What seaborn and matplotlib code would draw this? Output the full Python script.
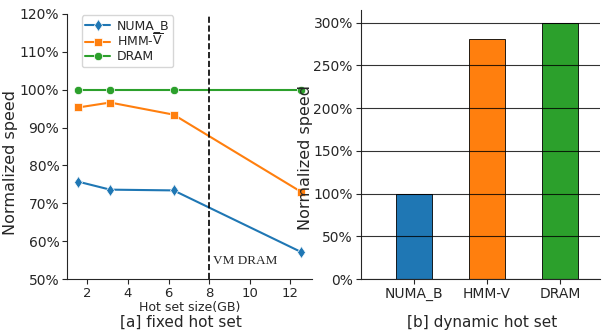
import pandas as pd
import matplotlib.pyplot as plt
import seaborn as sns
from matplotlib.ticker import PercentFormatter

# [a] fixed hot set
hot_set_gb = [1.5625, 3.125, 6.25, 12.5]
numa_b = [75.7, 73.6, 73.4, 57.2]
hmm_v = [95.3, 96.6, 93.4, 73.1]
dram = [100.0, 100.0, 100.0, 100.0]

# [b] dynamic hot set
systems = ['NUMA_B', 'HMM-V', 'DRAM']
dyn_speed = [100.0, 281.0, 300.0]

series_names = ['NUMA_B', 'HMM-V', 'DRAM']
legend_labels = ['NUMA_B', r'HMM-$\overline{\mathrm{V}}$', 'DRAM']
markers = {'NUMA_B': 'd', 'HMM-V': 's', 'DRAM': 'o'}
colors = sns.color_palette('tab10', 3)

sns.set_style("ticks")
plt.rcParams['font.family'] = ['DejaVu Sans']
plt.rcParams['mathtext.fontset'] = 'dejavusans'

df = pd.DataFrame({
    'size': hot_set_gb * 3,
    'speed': numa_b + hmm_v + dram,
    'system': [s for s in series_names for _ in hot_set_gb],
})

fig = plt.figure(figsize=(6.03, 3.31), dpi=100)
ax1 = fig.add_axes([0.111, 0.157, 0.406, 0.801])
ax2 = fig.add_axes([0.599, 0.157, 0.396, 0.813])

sns.lineplot(data=df, x='size', y='speed', hue='system', style='system',
             hue_order=series_names, style_order=series_names,
             markers=markers, dashes=False, palette=colors,
             markersize=6, linewidth=1.5, markeredgewidth=0.5, ax=ax1)
ax1.axvline(8, color='black', linestyle='--', linewidth=1.2)
ax1.text(8.2, 53.3, 'VM DRAM', family='Liberation Serif', fontsize=9.5, va='bottom')
ax1.set_xlim(1.0, 13.05)
ax1.set_ylim(50, 120)
ax1.set_xticks([2, 4, 6, 8, 10, 12])
ax1.set_yticks(range(50, 121, 10))
ax1.yaxis.set_major_formatter(PercentFormatter(decimals=0))
ax1.tick_params(labelsize=9.5, length=3.5, pad=2)
ax1.tick_params(axis='y', labelsize=10)
ax1.set_xlabel('Hot set size(GB)', fontsize=9)
ax1.xaxis.set_label_coords(0.5, -0.082)
ax1.set_ylabel('Normalized speed', fontsize=11.5)
ax1.yaxis.set_label_coords(-0.2, 0.44)
handles, _ = ax1.get_legend_handles_labels()
ax1.legend(handles[-3:], legend_labels, loc='upper left', fontsize=9,
           bbox_to_anchor=(0.055, 1.0), borderaxespad=0.1, handlelength=2,
           borderpad=0.3, labelspacing=0.1, handletextpad=0.5)
sns.despine(ax=ax1)

bar_df = pd.DataFrame({'system': systems, 'speed': dyn_speed})
sns.barplot(data=bar_df, x='system', y='speed', hue='system', palette=colors,
            saturation=1, width=0.5, edgecolor='black', linewidth=0.6,
            legend=False, ax=ax2)
ax2.set_xlim(-0.72, 2.55)
ax2.set_ylim(0, 315)
ax2.set_yticks(range(0, 301, 50))
ax2.yaxis.set_major_formatter(PercentFormatter(decimals=0))
ax2.set_axisbelow(False)
ax2.grid(axis='y', color='black', linewidth=0.8, alpha=0.8)
ax2.tick_params(labelsize=10, length=3.5, pad=2.5)
ax2.set_xlabel('')
ax2.set_ylabel('Normalized speed', fontsize=11.5)
ax2.yaxis.set_label_coords(-0.2, 0.45)
sns.despine(ax=ax2)

fig.text(0.30, 0.027, '[a] fixed hot set', fontsize=11, ha='center', va='center')
fig.text(0.80, 0.027, '[b] dynamic hot set', fontsize=11, ha='center', va='center')

fig.savefig('out.png', dpi=100)
